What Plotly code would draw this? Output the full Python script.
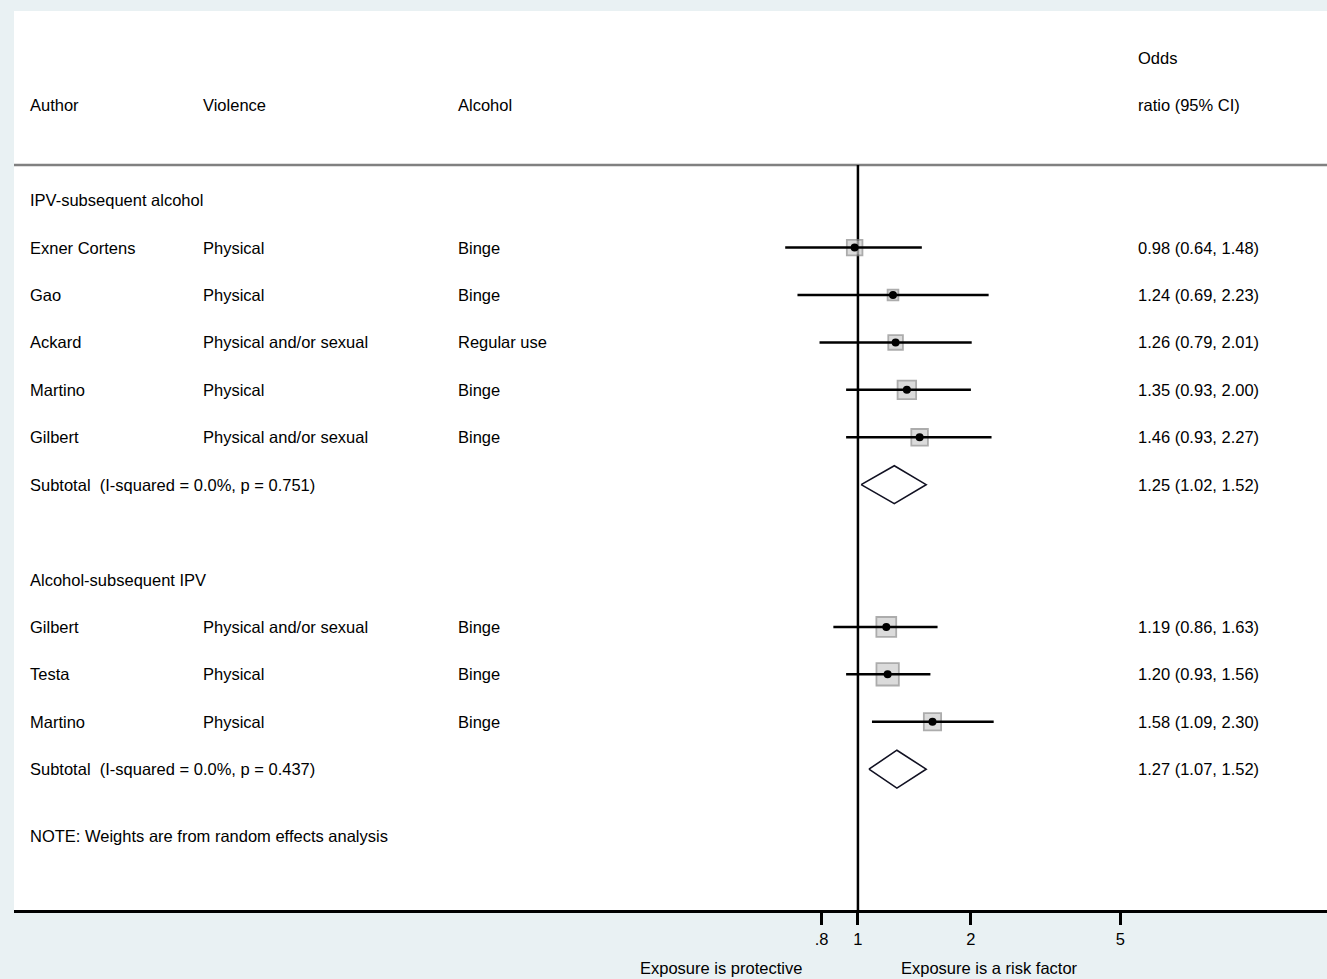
import math
import plotly.graph_objects as go

# ---------------- data ----------------
group_titles = ["IPV-subsequent alcohol", "Alcohol-subsequent IPV"]
authors = ["Exner Cortens", "Gao", "Ackard", "Martino", "Gilbert",
           "Gilbert", "Testa", "Martino"]
violence = ["Physical", "Physical", "Physical and/or sexual", "Physical",
            "Physical and/or sexual",
            "Physical and/or sexual", "Physical", "Physical"]
alcohol = ["Binge", "Binge", "Regular use", "Binge", "Binge",
           "Binge", "Binge", "Binge"]
study_group = [0, 0, 0, 0, 0, 1, 1, 1]
odds_ratio = [0.98, 1.24, 1.26, 1.35, 1.46, 1.19, 1.20, 1.58]
ci_low = [0.64, 0.69, 0.79, 0.93, 0.93, 0.86, 0.93, 1.09]
ci_high = [1.48, 2.23, 2.01, 2.00, 2.27, 1.63, 1.56, 2.30]
weight_pct = [20.4, 9.7, 18.0, 28.8, 23.1, 33.0, 42.0, 25.0]

sub_or = [1.25, 1.27]
sub_low = [1.02, 1.07]
sub_high = [1.52, 1.52]
sub_i2 = [0.0, 0.0]
sub_p = [0.751, 0.437]

tick_vals = [0.8, 1, 2, 5]
tick_text = [".8", "1", "2", "5"]

# ---------------- layout constants ----------------
FONT = "Liberation Sans, Arial, Helvetica, sans-serif"
FS = 16.5
BG = "#e9f1f3"
Y_TOP, Y_BOTTOM = -0.99, 17.97
HEADER_LINE_Y = 2.26
X_LOG_RANGE = [-2.249, 1.250]
COL_AUTHOR, COL_VIOL, COL_ALC, COL_OR = 0.0107, 0.1424, 0.3367, 0.8546

# assign rows
rows = [0] * len(authors)
title_rows, sub_rows = [], []
r = 3
for g in range(len(group_titles)):
    title_rows.append(r)
    r += 1
    for i, grp in enumerate(study_group):
        if grp == g:
            rows[i] = r
            r += 1
    sub_rows.append(r)
    r += 2
note_row = sub_rows[-1] + 1.41

fig = go.Figure()

# reference line at OR = 1
fig.add_trace(go.Scatter(x=[1, 1], y=[HEADER_LINE_Y, Y_BOTTOM], mode="lines",
                         line=dict(color="black", width=2.5),
                         hoverinfo="skip", showlegend=False, cliponaxis=False))

# weight boxes
fig.add_trace(go.Scatter(
    x=odds_ratio, y=rows, mode="markers",
    marker=dict(symbol="square", size=[3.45 * math.sqrt(w) for w in weight_pct],
                color="#cdcdcd", line=dict(color="#8a8a8a", width=1.8)),
    hoverinfo="skip", showlegend=False))

# CI lines
cx, cy = [], []
for lo, hi, yy in zip(ci_low, ci_high, rows):
    cx += [lo, hi, None]
    cy += [yy, yy, None]
fig.add_trace(go.Scatter(x=cx, y=cy, mode="lines",
                         line=dict(color="black", width=2.5),
                         hoverinfo="skip", showlegend=False))

# point estimates
fig.add_trace(go.Scatter(x=odds_ratio, y=rows, mode="markers",
                         marker=dict(symbol="circle", size=8, color="black"),
                         hoverinfo="skip", showlegend=False))

# subtotal diamonds
H = 0.40
for est, lo, hi, yy in zip(sub_or, sub_low, sub_high, sub_rows):
    fig.add_trace(go.Scatter(
        x=[lo, est, hi, est, lo], y=[yy, yy - H, yy, yy + H, yy],
        mode="lines", fill="toself", fillcolor="white",
        line=dict(color="#111122", width=1.6),
        hoverinfo="skip", showlegend=False))

# ---------------- text ----------------
ann = []


def txt(x, y, s, xanchor="left", yref="y", yanchor="middle"):
    ann.append(dict(x=x, y=y, xref="paper", yref=yref, text=s, showarrow=False,
                    xanchor=xanchor, yanchor=yanchor,
                    font=dict(family=FONT, size=FS, color="black")))


txt(COL_OR, 0, "Odds")
txt(COL_AUTHOR, 1, "Author")
txt(COL_VIOL, 1, "Violence")
txt(COL_ALC, 1, "Alcohol")
txt(COL_OR, 1, "ratio (95% CI)")

for g, t in enumerate(group_titles):
    txt(COL_AUTHOR, title_rows[g], t)
    txt(COL_AUTHOR, sub_rows[g],
        "Subtotal\u00a0 (I-squared = %.1f%%, p = %.3f)" % (sub_i2[g], sub_p[g]))
    txt(COL_OR, sub_rows[g], "%.2f (%.2f, %.2f)" % (sub_or[g], sub_low[g], sub_high[g]))

for i in range(len(authors)):
    txt(COL_AUTHOR, rows[i], authors[i])
    txt(COL_VIOL, rows[i], violence[i])
    txt(COL_ALC, rows[i], alcohol[i])
    txt(COL_OR, rows[i], "%.2f (%.2f, %.2f)" % (odds_ratio[i], ci_low[i], ci_high[i]))

txt(COL_AUTHOR, note_row, "NOTE: Weights are from random effects analysis")
txt(0.5388, -0.0645, "Exposure is protective", xanchor="center", yref="paper")
txt(0.7426, -0.0645, "Exposure is a risk factor", xanchor="center", yref="paper")

fig.update_layout(
    width=1327, height=979,
    margin=dict(l=14, r=0, t=11, b=69),
    paper_bgcolor=BG, plot_bgcolor="white",
    annotations=ann,
    shapes=[dict(type="line", xref="paper", yref="y", x0=0, x1=1,
                 y0=HEADER_LINE_Y, y1=HEADER_LINE_Y,
                 line=dict(color="#808080", width=2.5), layer="below")],
    xaxis=dict(type="log", range=X_LOG_RANGE, showgrid=False, zeroline=False,
               showline=True, linecolor="black", linewidth=3,
               ticks="outside", ticklen=12, tickwidth=2.5, tickcolor="black",
               tickvals=tick_vals, ticktext=tick_text, ticklabelstandoff=0,
               tickfont=dict(family=FONT, size=FS, color="black")),
    yaxis=dict(range=[Y_BOTTOM, Y_TOP], visible=False, showgrid=False, zeroline=False),
    showlegend=False,
)

fig.write_html("out.html", config={"displayModeBar": False},
               post_script="document.body.style.margin='0';document.body.style.overflow='hidden';")
